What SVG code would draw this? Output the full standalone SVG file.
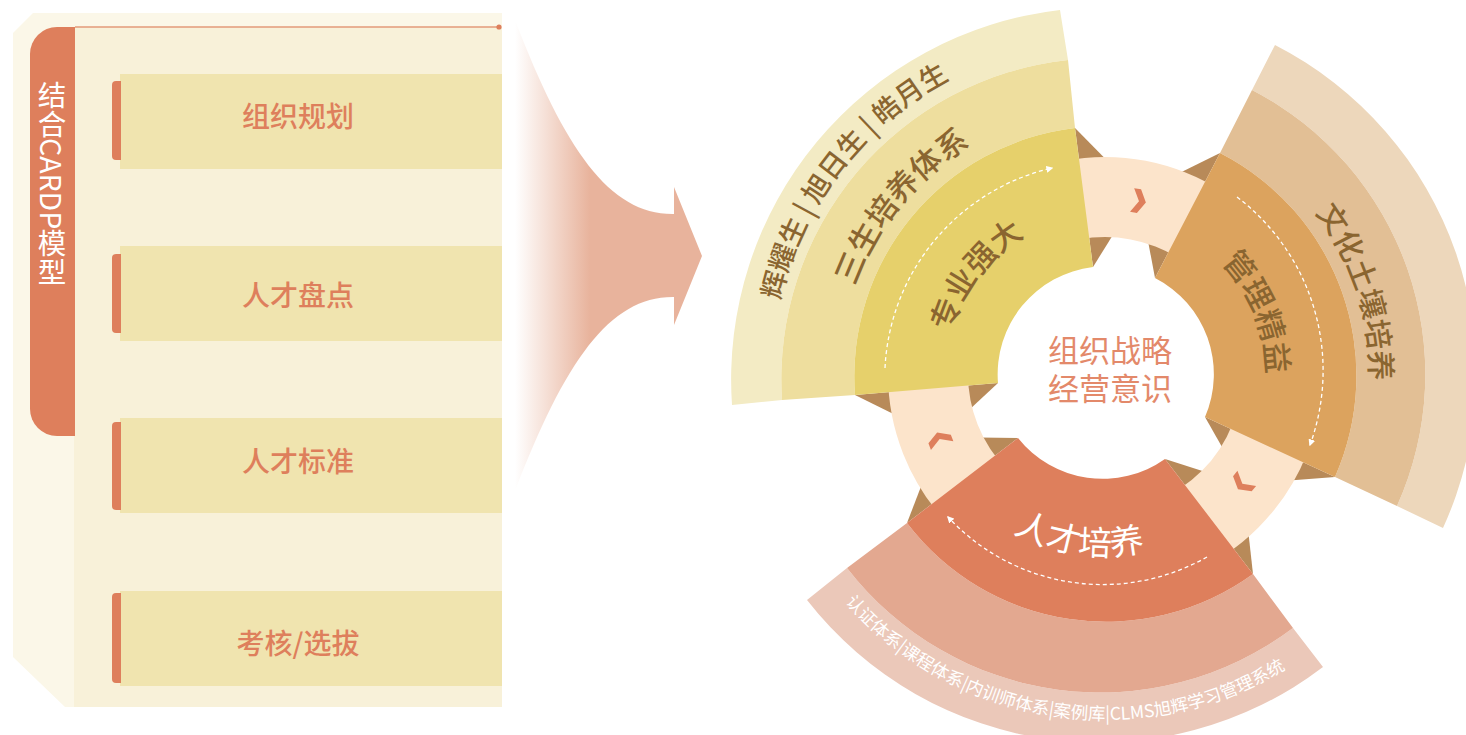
<svg xmlns="http://www.w3.org/2000/svg" width="1466" height="735" viewBox="0 0 1466 735">
<defs>
<style>
.cj{font-family:"Noto Sans CJK SC","Noto Sans",sans-serif;}
.item{font-size:28px;fill:#DE7F5C;text-anchor:middle;font-weight:500;}
.ys{fill:#8A6530;font-weight:500;}
.dash{fill:none;stroke:#FFFFFF;stroke-width:1.3;stroke-dasharray:4 3;marker-end:url(#ah);}
.brown{fill:#B88A59;}
.chev{fill:#DE7F5C;}
</style>
<linearGradient id="fg" gradientUnits="userSpaceOnUse" x1="515" y1="0" x2="590" y2="0">
<stop offset="0" stop-color="#E8B39C" stop-opacity="0"/>
<stop offset="1" stop-color="#E8B39C" stop-opacity="1"/>
</linearGradient>
<marker id="ah" viewBox="0 0 10 10" refX="8" refY="5" markerWidth="7" markerHeight="7" markerUnits="userSpaceOnUse" orient="auto">
<path d="M0,0 L10,5 L0,10 Z" fill="#FFFFFF"/>
</marker>
<path id="tpY3" d="M 792.1 487.9 A 333 333 0 0 1 1134.0 42.3"/>
<path id="tpY2" d="M 853.0 455.9 A 265 265 0 0 1 1137.3 111.0"/>
<path id="tpY1" d="M 955.6 428.4 A 159 159 0 0 1 1118.9 215.6"/>
<path id="tpO1" d="M 1133.0 215.4 A 161 161 0 0 1 1235.3 468.6"/>
<path id="tpO2" d="M 1169.1 116.9 A 265 265 0 0 1 1308.0 544.3"/>
<path id="tpR1" d="M 937.8 445.8 A 178 178 0 0 0 1241.4 488.4"/>
<path id="tpR3" d="M 787.5 511.4 A 346 346 0 0 0 1367.7 599.2"/>
<polygon id="chevShape" points="-6,-12 1,-12 8,0 1,12 -6,12 1,0"/>
</defs>

<g id="left-panel">
<polygon points="33,13 502,13 502,707 65,707 13,657 13,33" fill="#FBF7E8"/>
<rect x="74" y="27" width="428" height="680" fill="#F8F1D9"/>
<line x1="75" y1="27" x2="499" y2="27" stroke="#E39A7A" stroke-width="1.5"/>
<circle cx="499" cy="27" r="2.6" fill="#DE7F5C"/>
</g>

<g id="node-cardp">
<path d="M 75 27 L 57 27 A 27 27 0 0 0 30 54 L 30 409 A 27 27 0 0 0 57 436 L 75 436 Z" fill="#DE7F5C"/>
<text class="cj" x="52" y="81" writing-mode="vertical-rl" font-size="28.5" fill="#FFFFFF">结合CARDP模型</text>
</g>

<g id="node-plan">
<rect x="120" y="74" width="382" height="95" fill="#F0E4AF"/>
<path d="M 121 81 L 116 81 A 4 4 0 0 0 112 85 L 112 156 A 4 4 0 0 0 116 160 L 121 160 Z" fill="#DE7F5C"/>
<text class="cj item" x="298" y="127">组织规划</text>
</g>
<g id="node-review">
<rect x="120" y="246" width="382" height="95" fill="#F0E4AF"/>
<path d="M 121 254 L 116 254 A 4 4 0 0 0 112 258 L 112 329 A 4 4 0 0 0 116 333 L 121 333 Z" fill="#DE7F5C"/>
<text class="cj item" x="298" y="306">人才盘点</text>
</g>
<g id="node-standard">
<rect x="120" y="418" width="382" height="95" fill="#F0E4AF"/>
<path d="M 121 422 L 116 422 A 4 4 0 0 0 112 426 L 112 506 A 4 4 0 0 0 116 510 L 121 510 Z" fill="#DE7F5C"/>
<text class="cj item" x="298" y="472">人才标准</text>
</g>
<g id="node-assess">
<rect x="120" y="591" width="382" height="95" fill="#F0E4AF"/>
<path d="M 121 593 L 116 593 A 4 4 0 0 0 112 597 L 112 679 A 4 4 0 0 0 116 683 L 121 683 Z" fill="#DE7F5C"/>
<text class="cj item" x="298" y="654">考核/选拔</text>
</g>

<g id="connectors">
<path id="funnel-arrow" d="M 515 20 C 565 150 610 215 674 214 L 674 187 L 702 256 L 674 325 L 674 297 C 610 296 565 361 515 491 Z" fill="url(#fg)"/>
</g>

<g id="wheel-ring">
<polygon class="brown" points="1093,267 1139,193 1075,128"/>
<polygon class="brown" points="1155,278 1139,193 1220,153"/>
<polygon class="brown" points="1205,417 1243,484 1335,477"/>
<polygon class="brown" points="1165,459 1243,484 1253,574"/>
<polygon class="brown" points="1018,438 940,437 907,523"/>
<polygon class="brown" points="998,383 940,437 855,395"/>
<circle cx="1105" cy="374" r="177" fill="none" stroke="#FCE4CB" stroke-width="80"/>
<use href="#chevShape" class="chev" transform="translate(1138 201) rotate(10)"/>
<use href="#chevShape" class="chev" transform="translate(1243 483) rotate(129)"/>
<use href="#chevShape" class="chev" transform="translate(940 440) rotate(249)"/>
</g>

<g id="node-professional">
<path d="M 1060 10 A 372 372 0 0 0 732 405 L 782 400 A 321 321 0 0 1 1068 60 Z" fill="#F3EBC4"/>
<path d="M 1068 60 A 321 321 0 0 0 782 400 L 855 395 A 250 250 0 0 1 1075 128 Z" fill="#EEDE9E"/>
<path d="M 1075 128 A 250 250 0 0 0 855 395 L 998 383 A 108 108 0 0 1 1093 267 Z" fill="#E6D06B"/>
<path class="dash" d="M 885 368 A 216 216 0 0 1 1052 168"/>
<text class="cj ys" font-size="27.5"><textPath href="#tpY3" startOffset="50%" text-anchor="middle">辉耀生 | 旭日生 | 皓月生</textPath></text>
<text class="cj ys" font-size="31"><textPath href="#tpY2" startOffset="50%" text-anchor="middle">三生培养体系</textPath></text>
<text class="cj ys" font-size="31"><textPath href="#tpY1" startOffset="50%" text-anchor="middle">专业强大</textPath></text>
</g>

<g id="node-management">
<path d="M 1275 45 A 370 370 0 0 1 1443 528 L 1397 506 A 320 320 0 0 0 1252 90 Z" fill="#EDD7BB"/>
<path d="M 1252 90 A 320 320 0 0 1 1397 506 L 1335 477 A 250 250 0 0 0 1220 153 Z" fill="#E2BF95"/>
<path d="M 1220 153 A 250 250 0 0 1 1335 477 L 1205 417 A 108 108 0 0 0 1155 278 Z" fill="#DCA35E"/>
<path class="dash" d="M 1237 197 A 218 218 0 0 1 1310 445"/>
<text class="cj ys" font-size="31"><textPath href="#tpO1" startOffset="50%" text-anchor="middle">管理精益</textPath></text>
<text class="cj ys" font-size="30"><textPath href="#tpO2" startOffset="50%" text-anchor="middle">文化土壤培养</textPath></text>
</g>

<g id="node-talent">
<path d="M 807 600 A 370 370 0 0 0 1323 667 L 1293 628 A 320 320 0 0 1 847 568 Z" fill="#EBC8B9"/>
<path d="M 847 568 A 320 320 0 0 0 1293 628 L 1253 574 A 250 250 0 0 1 907 523 Z" fill="#E3A890"/>
<path d="M 907 523 A 250 250 0 0 0 1253 574 L 1165 459 A 108 108 0 0 1 1018 438 Z" fill="#DE7F5C"/>
<path class="dash" d="M 1207 557 A 211 211 0 0 1 948 517"/>
<text class="cj" font-size="34" fill="#FFFFFF"><textPath href="#tpR1" startOffset="50%" text-anchor="middle">人才培养</textPath></text>
<text class="cj" font-size="17.5" fill="#FFFFFF"><textPath href="#tpR3" startOffset="50%" text-anchor="middle">认证体系|课程体系|内训师体系|案例库|CLMS旭辉学习管理系统</textPath></text>
</g>

<g id="node-center">
<text class="cj" x="1110" y="362" font-size="31" fill="#E3896A" text-anchor="middle">组织战略</text>
<text class="cj" x="1110" y="400" font-size="31" fill="#E3896A" text-anchor="middle">经营意识</text>
</g>
</svg>
